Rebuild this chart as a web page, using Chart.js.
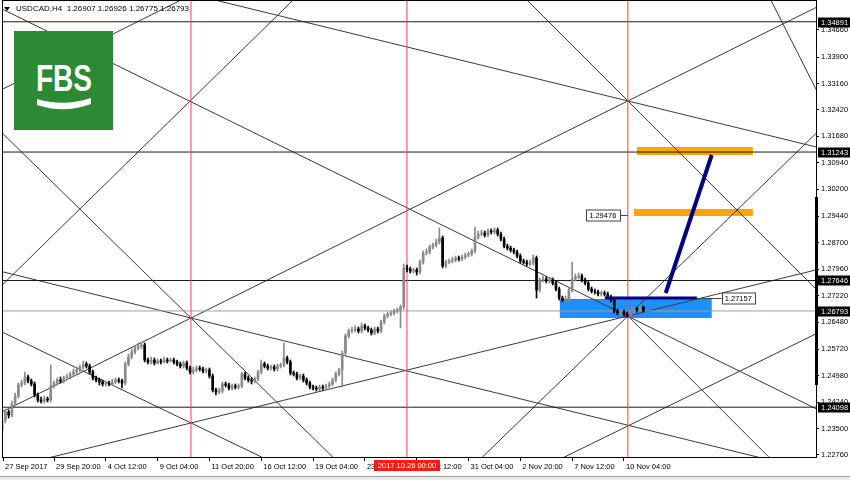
<!DOCTYPE html>
<html>
<head>
<meta charset="utf-8">
<script src="https://cdn.jsdelivr.net/npm/chart.js@4.4.0/dist/chart.umd.min.js"></script>
<style>
  html, body { margin: 0; padding: 0; background: #fff; }
  #wrap { position: relative; width: 850px; height: 480px; }
  #logo { position: absolute; left: 14px; top: 31px; }
</style>
</head>
<body>
<div id="wrap">
  <canvas id="chart" width="850" height="480"></canvas>
  <svg id="logo" width="99" height="99" viewBox="0 0 99 99">
    <rect width="99" height="99" fill="#2d8a34"/>
    <text x="50" y="60" text-anchor="middle" font-family="Liberation Sans, Arial" font-weight="bold" font-size="36" textLength="56" lengthAdjust="spacingAndGlyphs" fill="#fff">FBS</text>
    <path d="M23 68 Q50 76 77 67 L77 73 Q50 83 23 74 Z" fill="#fff"/>
  </svg>
</div>
<script>
// USDCAD H4, bar 1 = 27 Sep 2017 04:00 (6 bars a day, no weekends)
const firstBar = 1;

const opens = [
  1.23460,1.23740,1.23964,1.23880,1.24188,1.24412,1.24720,1.24776,1.24944,1.24832,
  1.24748,1.24440,1.24300,1.24272,1.24328,1.24300,1.24692,1.24776,1.24860,1.24832,
  1.24916,1.24944,1.25028,1.25084,1.25140,1.25224,1.25308,1.25252,1.25084,1.24916,
  1.24860,1.24804,1.24748,1.24776,1.24748,1.24804,1.24860,1.24832,1.24776,1.25308,
  1.25504,1.25644,1.25756,1.25812,1.25840,1.25420,1.25364,1.25420,1.25336,1.25392,
  1.25364,1.25420,1.25392,1.25420,1.25364,1.25308,1.25252,1.25336,1.25196,1.25084,
  1.25140,1.25196,1.25168,1.25112,1.25140,1.24972,1.24580,1.24524,1.24552,1.24748,
  1.24720,1.24636,1.24692,1.24664,1.24692,1.25028,1.24916,1.24860,1.24832,1.24888,
  1.25084,1.25308,1.25252,1.25196,1.25224,1.25168,1.25252,1.25280,1.25476,1.25364,
  1.25056,1.25028,1.24916,1.24972,1.24860,1.24776,1.24664,1.24636,1.24608,1.24664,
  1.24636,1.24692,1.24748,1.24860,1.25028,1.25140,1.25616,1.26092,1.26232,1.26260,
  1.26288,1.26232,1.26372,1.26316,1.26260,1.26176,1.26288,1.26232,1.26484,1.26652,
  1.26708,1.26736,1.26792,1.26820,1.26904,1.27996,1.27968,1.27912,1.27940,1.27884,
  1.28164,1.28416,1.28444,1.28584,1.28640,1.28724,1.28836,1.28052,1.28164,1.28192,
  1.28220,1.28276,1.28248,1.28304,1.28360,1.28388,1.28472,1.28864,1.28948,1.28976,
  1.28920,1.29032,1.29004,1.29060,1.28948,1.28808,1.28612,1.28556,1.28500,1.28444,
  1.28332,1.28192,1.28164,1.28108,1.28136,1.28276,1.27380,1.27660,1.27688,1.27632,
  1.27660,1.27576,1.27408,1.27156,1.27100,1.27128,1.27380,1.27688,1.27744,1.27772,
  1.27660,1.27576,1.27408,1.27352,1.27324,1.27268,1.27296,1.27268,1.27184,1.27100,
  1.26792,1.26736,1.26764,1.26708,1.26680,1.26764,1.26848,1.26820,1.26907
];
const highs = [
  1.23824,1.24048,1.24020,1.24272,1.24496,1.24776,1.24860,1.25084,1.25000,1.24888,
  1.24804,1.24496,1.24384,1.24412,1.24384,1.25280,1.24832,1.24916,1.24944,1.24972,
  1.25028,1.25084,1.25168,1.25224,1.25280,1.25392,1.25364,1.25308,1.25140,1.24972,
  1.24916,1.24860,1.24832,1.24832,1.24888,1.24916,1.24916,1.24888,1.25364,1.25588,
  1.25728,1.25840,1.25896,1.25924,1.25896,1.25476,1.25504,1.25476,1.25448,1.25448,
  1.25504,1.25476,1.25476,1.25476,1.25420,1.25364,1.25392,1.25392,1.25252,1.25224,
  1.25252,1.25252,1.25224,1.25196,1.25196,1.25028,1.24636,1.24636,1.24804,1.24804,
  1.24776,1.24748,1.24748,1.24748,1.25084,1.25084,1.24972,1.24916,1.24944,1.25140,
  1.25420,1.25364,1.25308,1.25280,1.25280,1.25308,1.25336,1.25896,1.25532,1.25420,
  1.25112,1.25084,1.25028,1.25028,1.24916,1.24832,1.24720,1.24692,1.24720,1.24720,
  1.24748,1.24804,1.24916,1.25084,1.25196,1.25672,1.26148,1.26288,1.26344,1.26372,
  1.26344,1.26456,1.26428,1.26372,1.26316,1.26344,1.26344,1.26540,1.26708,1.26764,
  1.26792,1.26848,1.26876,1.26960,1.28108,1.28080,1.28024,1.27996,1.27996,1.28220,
  1.28472,1.28528,1.28640,1.28696,1.28808,1.29116,1.28892,1.28220,1.28248,1.28304,
  1.28332,1.28332,1.28360,1.28416,1.28444,1.28528,1.29144,1.29032,1.29060,1.29032,
  1.29088,1.29088,1.29116,1.29116,1.29004,1.28864,1.28668,1.28612,1.28556,1.28500,
  1.28388,1.28248,1.28220,1.28220,1.28360,1.28332,1.27716,1.27772,1.27744,1.27716,
  1.27716,1.27632,1.27464,1.27212,1.27212,1.27436,1.28164,1.27828,1.27856,1.27828,
  1.27716,1.27632,1.27464,1.27408,1.27380,1.27352,1.27352,1.27324,1.27240,1.27156,
  1.26848,1.26820,1.26820,1.26764,1.26820,1.26904,1.26904,1.26960,1.26926
];
const lows = [
  1.23292,1.23656,1.23796,1.23824,1.24104,1.24356,1.24664,1.24720,1.24776,1.24692,
  1.24384,1.24244,1.24216,1.24216,1.24244,1.24244,1.24636,1.24720,1.24776,1.24776,
  1.24860,1.24888,1.24972,1.25028,1.25084,1.25168,1.25196,1.25028,1.24860,1.24804,
  1.24720,1.24692,1.24692,1.24692,1.24720,1.24748,1.24776,1.24636,1.24720,1.25252,
  1.25448,1.25588,1.25700,1.25728,1.25364,1.25308,1.25308,1.25280,1.25308,1.25308,
  1.25336,1.25336,1.25364,1.25308,1.25252,1.25196,1.25196,1.25140,1.25028,1.25028,
  1.25084,1.25112,1.25056,1.25056,1.24916,1.24524,1.24440,1.24468,1.24496,1.24664,
  1.24580,1.24580,1.24608,1.24608,1.24636,1.24860,1.24804,1.24748,1.24776,1.24832,
  1.25028,1.25196,1.25140,1.25140,1.25112,1.25112,1.25196,1.25224,1.25308,1.25000,
  1.24972,1.24860,1.24860,1.24804,1.24720,1.24608,1.24580,1.24552,1.24552,1.24580,
  1.24580,1.24636,1.24692,1.24804,1.24972,1.24664,1.25560,1.26036,1.26176,1.26204,
  1.26176,1.26176,1.26260,1.26204,1.26120,1.26120,1.26176,1.26176,1.26428,1.26596,
  1.26652,1.26680,1.26736,1.26316,1.26848,1.27884,1.27856,1.27856,1.27800,1.27828,
  1.28108,1.28360,1.28388,1.28528,1.28584,1.28668,1.27996,1.27996,1.28108,1.28136,
  1.28164,1.28192,1.28192,1.28248,1.28304,1.28332,1.28416,1.28808,1.28892,1.28864,
  1.28864,1.28948,1.28948,1.28892,1.28752,1.28556,1.28500,1.28444,1.28388,1.28276,
  1.28136,1.28108,1.28052,1.28052,1.28080,1.27156,1.27324,1.27604,1.27576,1.27576,
  1.27520,1.27352,1.27100,1.27044,1.27044,1.27072,1.27324,1.27632,1.27688,1.27604,
  1.27520,1.27352,1.27296,1.27268,1.27212,1.27212,1.27212,1.27128,1.27044,1.26736,
  1.26680,1.26680,1.26652,1.26624,1.26624,1.26708,1.26764,1.26764,1.26775
];
const closes = [
  1.23740,1.23964,1.23880,1.24188,1.24412,1.24720,1.24776,1.24944,1.24832,1.24748,
  1.24440,1.24300,1.24272,1.24328,1.24300,1.24692,1.24776,1.24860,1.24832,1.24916,
  1.24944,1.25028,1.25084,1.25140,1.25224,1.25308,1.25252,1.25084,1.24916,1.24860,
  1.24804,1.24748,1.24776,1.24748,1.24804,1.24860,1.24832,1.24776,1.25308,1.25504,
  1.25644,1.25756,1.25812,1.25840,1.25420,1.25364,1.25420,1.25336,1.25392,1.25364,
  1.25420,1.25392,1.25420,1.25364,1.25308,1.25252,1.25336,1.25196,1.25084,1.25140,
  1.25196,1.25168,1.25112,1.25140,1.24972,1.24580,1.24524,1.24552,1.24748,1.24720,
  1.24636,1.24692,1.24664,1.24692,1.25028,1.24916,1.24860,1.24832,1.24888,1.25084,
  1.25308,1.25252,1.25196,1.25224,1.25168,1.25252,1.25280,1.25476,1.25364,1.25056,
  1.25028,1.24916,1.24972,1.24860,1.24776,1.24664,1.24636,1.24608,1.24664,1.24636,
  1.24692,1.24748,1.24860,1.25028,1.25140,1.25616,1.26092,1.26232,1.26260,1.26288,
  1.26232,1.26372,1.26316,1.26260,1.26176,1.26288,1.26232,1.26484,1.26652,1.26708,
  1.26736,1.26792,1.26820,1.26904,1.27996,1.27968,1.27912,1.27940,1.27884,1.28164,
  1.28416,1.28444,1.28584,1.28640,1.28724,1.28836,1.28052,1.28164,1.28192,1.28220,
  1.28276,1.28248,1.28304,1.28360,1.28388,1.28472,1.28864,1.28948,1.28976,1.28920,
  1.29032,1.29004,1.29060,1.28948,1.28808,1.28612,1.28556,1.28500,1.28444,1.28332,
  1.28192,1.28164,1.28108,1.28136,1.28276,1.27380,1.27660,1.27688,1.27632,1.27660,
  1.27576,1.27408,1.27156,1.27100,1.27128,1.27380,1.27688,1.27744,1.27772,1.27660,
  1.27576,1.27408,1.27352,1.27324,1.27268,1.27296,1.27268,1.27184,1.27100,1.26792,
  1.26736,1.26764,1.26708,1.26680,1.26764,1.26848,1.26820,1.26904,1.26793
];

// axis ticks
const xTickBars = [1.25, 17, 33, 49, 65, 81, 97, 113, 129, 145, 161, 177, 193];
const xTickLabels = ['27 Sep 2017', '29 Sep 20:00', '4 Oct 12:00', '9 Oct 04:00', '11 Oct 20:00',
  '16 Oct 12:00', '19 Oct 04:00', '23 Oct 20:00', '26 Oct 12:00', '31 Oct 04:00',
  '2 Nov 20:00', '7 Nov 12:00', '10 Nov 04:00'];
const yTicks = [1.34660, 1.33900, 1.33160, 1.32420, 1.31680, 1.30940, 1.30200, 1.29440, 1.28700,
  1.27960, 1.27220, 1.26480, 1.25720, 1.24980, 1.24240, 1.23500, 1.22760];

// objects on the chart
const hLevels = [1.34891, 1.31243, 1.27646, 1.24098];
const bidPrice = 1.26793;
const vLineBars = [59.3, 126, 194.2];
const vLineLabel = '2017.10.26 00:00';
// [bar1, price1, bar2, price2]
const gannLines = [
  [0, 1.35290, 253, 1.24025],
  [0, 1.26246, 86.8, 1.22455],
  [0, 1.22340, 253, 1.27957],
  [0, 1.32952, 62.1, 1.35766],
  [62.1, 1.35601, 253, 1.31370],
  [0, 1.27430, 93, 1.35690],
  [0, 1.23925, 253, 1.35321],
  [0, 1.27915, 247.3, 1.22413],
  [0, 1.31866, 106.8, 1.22371],
  [160.9, 1.35696, 253, 1.27341],
  [145.4, 1.22360, 253, 1.31824],
  [194.2, 1.26652, 244.2, 1.22116],
  [173.2, 1.22640, 253, 1.26184],
  [235.0, 1.36102, 253, 1.32876]
];
const navyLines = [
  [187.1, 1.27157, 215.5, 1.27157],
  [205.9, 1.27296, 220.1, 1.31160]
];
const zoneBars = [[173.2, 220.1], [197.0, 232.8], [196.1, 232.8]];
const zonePrices = [[1.27128, 1.26596], [1.31384, 1.31160], [1.29648, 1.29452]];
const tagPrices = [1.29476, 1.27157];
const tagBars = [[181.2, 191.7, 194.2], [223.2, 233.4, 215.5]];
const rangeBarPrices = [1.29984, 1.24720];
const title = 'USDCAD,H4  1.26907 1.26926 1.26775 1.26793';

const xMin = 1.25, xMax = 252.3;
const yMin = 1.22704, yMax = 1.35472;

const bars = closes.map((_, i) => firstBar + i);
const candleColors = closes.map((c, i) => c >= opens[i] ? '#8a8a8a' : '#000000');

const lineDataset = (seg, color, width, order) => ({
  type: 'line',
  data: [{ x: seg[0], y: seg[1] }, { x: seg[2], y: seg[3] }],
  borderColor: color,
  borderWidth: width,
  pointRadius: 0,
  fill: false,
  order
});

const datasets = [];
gannLines.forEach(s => datasets.push(lineDataset(s, '#3a3a3a', 1, 6)));
hLevels.forEach(p => datasets.push(lineDataset([xMin - 1, p, xMax + 1, p], '#1a1a1a', 1, 5)));
datasets.push(lineDataset([xMin - 1, bidPrice, xMax + 1, bidPrice], '#9aa0a8', 1, 5));
vLineBars.forEach(b => datasets.push(lineDataset([b, yMin - 0.01, b, yMax + 0.01], '#ff4040', 1, 4)));
datasets.push({
  type: 'bar',
  data: bars.map((b, i) => ({ x: b, y: [lows[i], highs[i]] })),
  backgroundColor: candleColors,
  barThickness: 1,
  grouped: false,
  order: 3
});
datasets.push({
  type: 'bar',
  data: bars.map((b, i) => ({ x: b, y: [opens[i], closes[i]] })),
  backgroundColor: candleColors,
  barThickness: 2,
  minBarLength: 1,
  grouped: false,
  order: 2
});
datasets.push(lineDataset(navyLines[0], '#000080', 3, 1));
datasets.push(lineDataset(navyLines[1], '#000080', 4, 1));

const FONT = '"Liberation Sans", Arial, sans-serif';

const decor = {
  id: 'decor',
  beforeDatasetsDraw(chart) {
    const { ctx, scales: { x, y } } = chart;
    const colors = ['#1e90ff', '#ffa500', '#ffa500'];
    ctx.save();
    zoneBars.forEach((zb, i) => {
      const x1 = x.getPixelForValue(zb[0]), x2 = x.getPixelForValue(zb[1]);
      const y1 = y.getPixelForValue(zonePrices[i][0]), y2 = y.getPixelForValue(zonePrices[i][1]);
      ctx.fillStyle = colors[i];
      ctx.fillRect(x1, y1, x2 - x1, y2 - y1);
    });
    ctx.restore();
  },
  afterDraw(chart) {
    const { ctx, chartArea: a, scales: { x, y } } = chart;
    ctx.save();
    // frame
    ctx.strokeStyle = '#000';
    ctx.lineWidth = 1;
    ctx.strokeRect(a.left - 0.5, a.top - 0.5, a.right - a.left + 1, a.bottom - a.top + 1);

    // price tags on the chart
    ctx.font = '7.5px ' + FONT;
    ctx.textBaseline = 'middle';
    tagPrices.forEach((p, i) => {
      const py = Math.round(y.getPixelForValue(p)) + 0.5;
      const x1 = x.getPixelForValue(tagBars[i][0]), x2 = x.getPixelForValue(tagBars[i][1]);
      const xc = x.getPixelForValue(tagBars[i][2]);
      ctx.strokeStyle = '#444';
      ctx.beginPath();
      if (xc > x2) { ctx.moveTo(x2, py); ctx.lineTo(xc, py); } else { ctx.moveTo(xc, py); ctx.lineTo(x1, py); }
      ctx.stroke();
      ctx.fillStyle = '#fff';
      ctx.fillRect(x1, py - 5.5, x2 - x1, 11);
      ctx.strokeRect(Math.round(x1) + 0.5, py - 5.5, Math.round(x2 - x1), 11);
      ctx.fillStyle = '#000';
      ctx.textAlign = 'center';
      ctx.fillText(p.toFixed(5), (x1 + x2) / 2, py + 0.5);
    });

    // range bar on the price scale
    ctx.fillStyle = '#000';
    const r1 = y.getPixelForValue(rangeBarPrices[0]), r2 = y.getPixelForValue(rangeBarPrices[1]);
    ctx.fillRect(a.right - 1, r1, 3, r2 - r1);

    // level labels on the price scale
    ctx.textAlign = 'left';
    hLevels.concat([bidPrice]).forEach(p => {
      const py = Math.round(y.getPixelForValue(p));
      ctx.fillStyle = '#000';
      ctx.fillRect(a.right + 2, py - 4.5, 850 - a.right - 2, 10);
      ctx.fillStyle = '#fff';
      ctx.fillText(p.toFixed(5), a.right + 5, py + 0.5);
    });

    // red date box on the time scale
    const vx = x.getPixelForValue(vLineBars[1]);
    ctx.fillStyle = '#ff1a1a';
    ctx.fillRect(vx - 33, a.bottom + 3, 66, 11);
    ctx.fillStyle = '#fff';
    ctx.textAlign = 'center';
    ctx.fillText(vLineLabel, vx, a.bottom + 9);

    // title
    ctx.fillStyle = '#000';
    ctx.beginPath();
    ctx.moveTo(4, 7); ctx.lineTo(10, 7); ctx.lineTo(7, 11); ctx.closePath();
    ctx.fill();
    ctx.font = '8px ' + FONT;
    ctx.textAlign = 'left';
    ctx.fillText(title, 16, 9);

    // tab strip at the bottom
    ctx.fillStyle = '#ececec';
    ctx.fillRect(0, 476, 850, 4);
    ctx.fillStyle = '#9a9a9a';
    ctx.fillRect(0, 476, 850, 1);
    ctx.restore();
  }
};

new Chart(document.getElementById('chart'), {
  type: 'bar',
  data: { datasets },
  options: {
    responsive: false,
    devicePixelRatio: 1,
    animation: false,
    events: [],
    layout: { padding: { left: 3, top: 1, right: 0, bottom: 0 } },
    plugins: { legend: { display: false }, tooltip: { enabled: false } },
    scales: {
      x: {
        type: 'linear',
        min: xMin,
        max: xMax,
        offset: false,
        afterFit: s => { s.height = 23; s.paddingLeft = 0; s.paddingRight = 0; },
        afterBuildTicks: s => { s.ticks = xTickBars.map(v => ({ value: v })); },
        grid: { drawOnChartArea: false, drawTicks: true, tickLength: 4, color: '#000', offset: false },
        border: { display: false },
        ticks: {
          autoSkip: false,
          maxRotation: 0,
          align: 'start',
          labelOffset: 2,
          padding: 1,
          color: '#000',
          font: { family: FONT, size: 7.5 },
          callback: (v, i) => xTickLabels[i]
        }
      },
      y: {
        type: 'linear',
        position: 'right',
        min: yMin,
        max: yMax,
        afterFit: s => { s.width = 34; s.paddingTop = 0; s.paddingBottom = 0; },
        afterBuildTicks: s => { s.ticks = yTicks.map(v => ({ value: v })); },
        grid: { drawOnChartArea: false, drawTicks: true, tickLength: 3, color: '#000' },
        border: { display: false },
        ticks: {
          padding: 2,
          color: '#000',
          font: { family: FONT, size: 7.5 },
          callback: v => Number(v).toFixed(5)
        }
      }
    }
  },
  plugins: [decor]
});
</script>
</body>
</html>
